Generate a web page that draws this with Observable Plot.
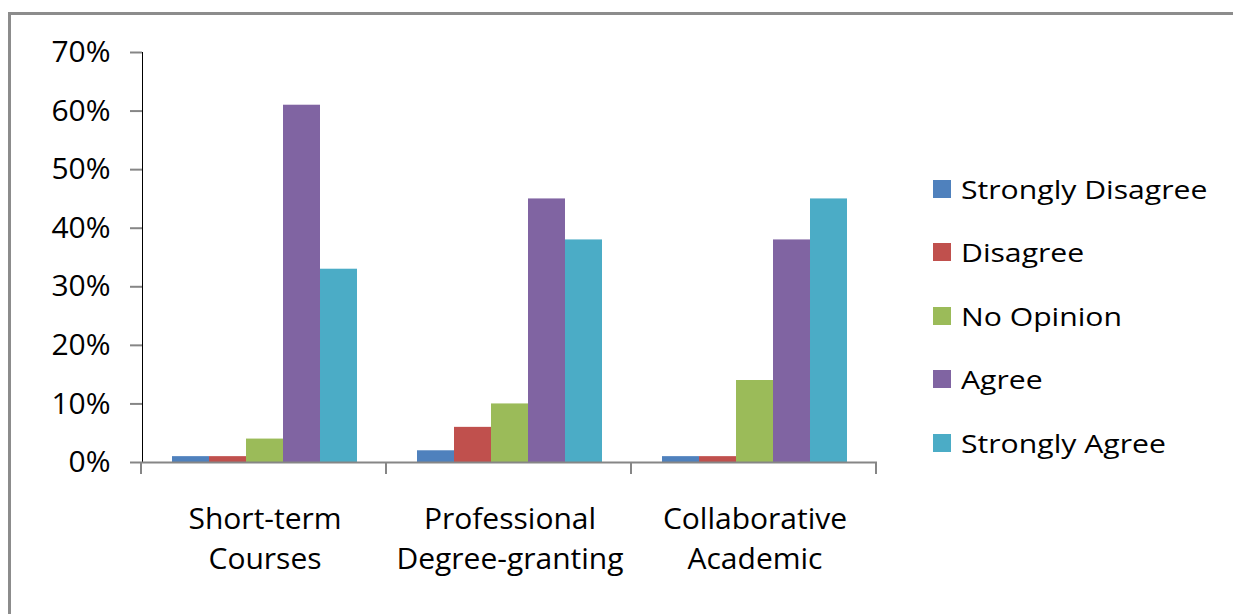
<!DOCTYPE html>
<html><head><meta charset="utf-8">
<script src="https://cdn.jsdelivr.net/npm/d3@7"></script>
<script src="https://cdn.jsdelivr.net/npm/@observablehq/plot@0.6"></script>
<style>
body{margin:0;background:#fff;font-family:"Open Sans",sans-serif;}
#frame{position:absolute;left:8px;top:12px;width:1320px;height:700px;border:3px solid #8c8c8c;box-sizing:border-box;}
#chart{position:absolute;left:0;top:0;}
#legend{position:absolute;left:933px;top:157px;}
.row{display:flex;align-items:center;height:63.5px;}
.sw{width:18px;height:18px;margin-right:10px;flex:none;}
.lab{font-size:26px;color:#000;white-space:nowrap;transform:scaleX(1.16);transform-origin:left center;}
svg g[aria-label^="y-axis"] path, svg g[aria-label^="y-axis"] line{stroke:#868686;stroke-width:2;}
</style></head>
<body>
<div id="frame"></div>
<div id="chart"></div>
<div id="legend"></div>
<script>
const categories = ["Short-term Courses","Professional Degree-granting","Collaborative Academic"];
const categoryLabels = ["Short-term\nCourses","Professional\nDegree-granting","Collaborative\nAcademic"];
const seriesNames = ["Strongly Disagree","Disagree","No Opinion","Agree","Strongly Agree"];
const stronglyDisagree = [0.01,0.02,0.01];
const disagree = [0.01,0.06,0.01];
const noOpinion = [0.04,0.10,0.14];
const agree = [0.61,0.45,0.38];
const stronglyAgree = [0.33,0.38,0.45];
const colors = ["#4F81BD","#C0504D","#9BBB59","#8064A2","#4BACC6"];
const yTicks = [0,0.1,0.2,0.3,0.4,0.5,0.6,0.7];

const seriesValues = [stronglyDisagree, disagree, noOpinion, agree, stronglyAgree];
const rows = categories.flatMap((c,i)=>seriesNames.map((s,j)=>({category:c, series:s, value:seriesValues[j][i]})));

const chart = Plot.plot({
  width:1233, height:614,
  marginLeft:141, marginRight:356, marginTop:52, marginBottom:152,
  style:{fontFamily:"Open Sans", fontSize:"30px", color:"#000", background:"transparent", overflow:"visible"},
  fx:{domain:categories, padding:0, axis:null},
  x:{domain:seriesNames, paddingInner:0, paddingOuter:0.76, axis:null},
  y:{domain:[0,0.7], ticks:yTicks, tickFormat:d3.format(".0%"), tickSize:12, tickPadding:20, label:null, line:true},
  color:{domain:seriesNames, range:colors},
  marks:[
    Plot.barY(rows,{fx:"category", x:"series", y:"value", fill:"series"}),
    Plot.ruleY([0],{stroke:"#868686", strokeWidth:2}),
    Plot.text(categories,{fx:d=>d, text:(d,i)=>categoryLabels[i], frameAnchor:"bottom", lineAnchor:"top", dy:38, lineHeight:1.34, fontSize:30, fill:"#000"})
  ]
});
document.getElementById("chart").appendChild(chart);

// boundary ticks on the category axis, from the library's fx and y scales
const fxs = chart.scale("fx"), ys = chart.scale("y");
const x0 = fxs.range[0], step = fxs.step ?? fxs.bandwidth;
const y0 = ys.apply ? ys.apply(0) : ys.range[0];
const g = d3.select(chart).append("g").attr("stroke","#868686").attr("stroke-width",2);
for (let i=0;i<=categories.length;i++){
  const xx = x0 + i*step;
  g.append("line").attr("x1",xx).attr("x2",xx).attr("y1",y0).attr("y2",y0+12);
}

const legend = d3.select("#legend");
seriesNames.forEach((s,i)=>{
  const r = legend.append("div").attr("class","row");
  r.append("div").attr("class","sw").style("background",colors[i]);
  r.append("div").attr("class","lab").text(s);
});
</script>
</body></html>
